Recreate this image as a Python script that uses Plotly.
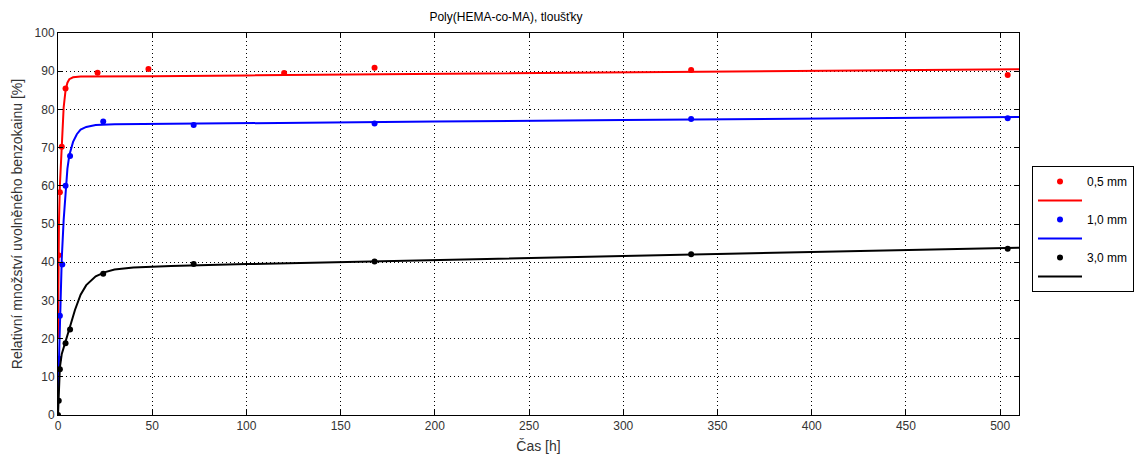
import plotly.graph_objects as go

# ---- measured data points ----
red_t = [0.25, 1, 2, 4, 21, 48, 120, 168, 336, 504]
red_v = [41.8, 58.3, 70.2, 85.5, 89.6, 90.6, 89.5, 90.9, 90.3, 89.0]

blue_t = [0.5, 1, 2.3, 4, 6.4, 24, 72, 168, 336, 504]
blue_v = [14.7, 26.0, 39.4, 60.0, 67.8, 76.8, 75.9, 76.3, 77.5, 77.7]

black_t = [0, 0.4, 1, 4, 6.4, 24, 72, 168, 336, 504]
black_v = [0, 3.7, 12.0, 18.8, 22.4, 37.0, 39.5, 40.2, 42.1, 43.5]

# ---- fitted curves ----
red_fit_t = [0, 0.25, 0.5, 1, 1.5, 2, 2.5, 3, 4, 5, 6, 8, 12, 20, 50, 100, 200, 300, 400, 510]
red_fit_v = [20, 40, 50, 60, 66, 71, 76, 80.5, 85, 87, 87.9, 88.4, 88.6, 88.6, 88.7, 88.9, 89.3, 89.7, 90.1, 90.5]

blue_fit_t = [0, 0.5, 1, 1.5, 2, 3, 4, 5, 6, 8, 10, 12, 15, 20, 30, 50, 100, 200, 300, 400, 510]
blue_fit_v = [5, 15, 26, 34, 41, 51, 59, 64.5, 68, 71.5, 73.5, 74.7, 75.4, 75.9, 76.1, 76.2, 76.4, 76.8, 77.2, 77.6, 78.0]

black_fit_t = [0, 0.5, 1, 2, 3, 4, 6, 9, 12, 15, 20, 25, 30, 40, 60, 100, 200, 300, 400, 510]
black_fit_v = [0, 8, 12.5, 16, 17.8, 19.3, 22.5, 27.5, 31.5, 34, 36.3, 37.4, 38.1, 38.6, 39.0, 39.5, 40.5, 41.6, 42.7, 43.8]

names = ["0,5 mm", "1,0 mm", "3,0 mm"]
colors = ["#ff0000", "#0000ff", "#000000"]

x_ticks = [0, 50, 100, 150, 200, 250, 300, 350, 400, 450, 500]
y_ticks = [0, 10, 20, 30, 40, 50, 60, 70, 80, 90, 100]

FONT = "Liberation Sans, Arial, sans-serif"

fig = go.Figure()
series = [(red_t, red_v, red_fit_t, red_fit_v),
          (blue_t, blue_v, blue_fit_t, blue_fit_v),
          (black_t, black_v, black_fit_t, black_fit_v)]
for (pt, pv, ft, fv), name, col in zip(series, names, colors):
    fig.add_trace(go.Scatter(x=pt, y=pv, mode="markers", name=name,
                             marker=dict(color=col, size=6), cliponaxis=True))
    fig.add_trace(go.Scatter(x=ft, y=fv, mode="lines", name=" ",
                             line=dict(color=col, width=2)))

fig.update_layout(
    width=1135, height=454,
    margin=dict(l=58, r=116, t=33, b=39, autoexpand=False),
    paper_bgcolor="white", plot_bgcolor="white",
    font=dict(family=FONT, size=12, color="#000000"),
    title=dict(text="Poly(HEMA-co-MA), tloušťky", x=506/1135, xanchor="center",
               xref="container", y=1-17/454, yanchor="middle", yref="container",
               font=dict(family=FONT, size=12, color="#000000")),
    showlegend=True,
    legend=dict(x=(1032-58)/961, xanchor="left", y=(415-166)/382, yanchor="top",
                bgcolor="white", bordercolor="black", borderwidth=1,
                font=dict(family=FONT, size=12), tracegroupgap=0,
                itemwidth=44),
)
fig.update_xaxes(range=[0, 510], tickvals=x_ticks, ticktext=[str(v) for v in x_ticks],
                 showline=True, linecolor="black", linewidth=1, mirror="allticks",
                 ticks="inside", ticklen=5, tickcolor="black", automargin=False,
                 showgrid=True, gridcolor="black", gridwidth=1, griddash="1px,3px",
                 zeroline=False, tickfont=dict(family=FONT, size=12, color="#333333"),
                 title=dict(text="Čas [h]", font=dict(family=FONT, size=14, color="#333333"), standoff=8))
fig.update_yaxes(range=[0, 100], tickvals=y_ticks, ticktext=[str(v) for v in y_ticks],
                 showline=True, linecolor="black", linewidth=1, mirror="allticks",
                 ticks="inside", ticklen=5, tickcolor="black", automargin=False,
                 showgrid=True, gridcolor="black", gridwidth=1, griddash="1px,3px",
                 zeroline=False, tickfont=dict(family=FONT, size=12, color="#333333"),
                 title=dict(text="Relativní množství uvolněného benzokainu [%]",
                            font=dict(family=FONT, size=14, color="#333333"), standoff=8))

fig.write_html("out.html")
